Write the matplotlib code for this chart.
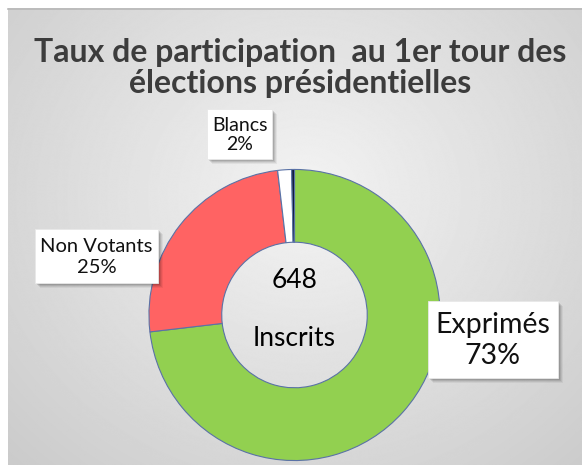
import numpy as np
import matplotlib.pyplot as plt
from matplotlib.patches import Rectangle

plt.rcParams['font.family'] = ['Lato', 'DejaVu Sans']

# data
labels = ['Exprimés', 'Non Votants', 'Blancs', 'Nuls']
counts = [474, 162, 10, 2]
colors = ['#92d050', '#ff6363', '#ffffff', '#0d1838']
title = 'Taux de participation  au 1er tour des\nélections présidentielles'
centre_label = 'Inscrits'

W, H = 582, 465
fig = plt.figure(figsize=(W / 100, H / 100), dpi=100, facecolor='white')

# background with a soft radial gradient
bg = fig.add_axes([0, 0, 1, 1], zorder=0)
bg.set_xlim(0, W)
bg.set_ylim(H, 0)
bg.axis('off')
yy, xx = np.mgrid[0:H, 0:W]
d = np.hypot((xx - 300) / 420, (yy - 190) / 380)
shade = np.clip(0.955 - 0.16 * d, 0, 1)
bg.imshow(shade, cmap='gray', vmin=0, vmax=1, extent=(8, W, H, 9),
          aspect='auto', interpolation='bilinear')
bg.plot([8, W], [9.5, 9.5], color='#b8b8b8', lw=1.2)
bg.text(300, 68, title, ha='center', va='center', fontsize=23,
        fontweight='bold', color='#3c3c3c', linespacing=1.08)

# donut
cx, cy, r = 294.5, 315, 147
pie_ax = fig.add_axes([(cx - r) / W, (H - cy - r) / H, 2 * r / W, 2 * r / H],
                      zorder=1)
pie_ax.pie(counts, colors=colors, startangle=90, counterclock=False,
           radius=1, wedgeprops=dict(width=0.5, edgecolor='#5a72a6',
                                     linewidth=0.8))
pie_ax.set_xlim(-1.01, 1.01)
pie_ax.set_ylim(-1.01, 1.01)
pie_ax.set_aspect('equal')
pie_ax.axis('off')
total = sum(counts)
pie_ax.text(0, 0.24, str(total), ha='center', va='center', fontsize=19,
            color='black')
pie_ax.text(0, -0.16, centre_label, ha='center', va='center', fontsize=19,
            color='black')

# label boxes on top
top = fig.add_axes([0, 0, 1, 1], zorder=2)
top.set_xlim(0, W)
top.set_ylim(H, 0)
top.axis('off')
top.patch.set_alpha(0)

boxes = {
    'Exprimés': (428, 301, 558, 378, 20.5, 1.22),
    'Non Votants': (35, 229, 158, 283, 14.5, 1.28),
    'Blancs': (207, 109, 272, 159, 14, 1.18),
}
for name, value in zip(labels, counts):
    if name not in boxes:
        continue
    x0, y0, x1, y1, fs, ls = boxes[name]
    for off, a in [(5, 0.05), (4, 0.07), (3, 0.09), (2, 0.11)]:
        top.add_patch(Rectangle((x0 + off, y0 + off), x1 - x0, y1 - y0,
                                facecolor='black', alpha=a, lw=0))
    top.add_patch(Rectangle((x0, y0), x1 - x0, y1 - y0, facecolor='white',
                            edgecolor='#e8e8e8', lw=0.6))
    pct = round(100 * value / total)
    top.text((x0 + x1) / 2, (y0 + y1) / 2 + 1, f'{name}\n{pct}%',
             ha='center', va='center', fontsize=fs, color='#111111',
             linespacing=ls)

fig.savefig('out.png', dpi=100)
